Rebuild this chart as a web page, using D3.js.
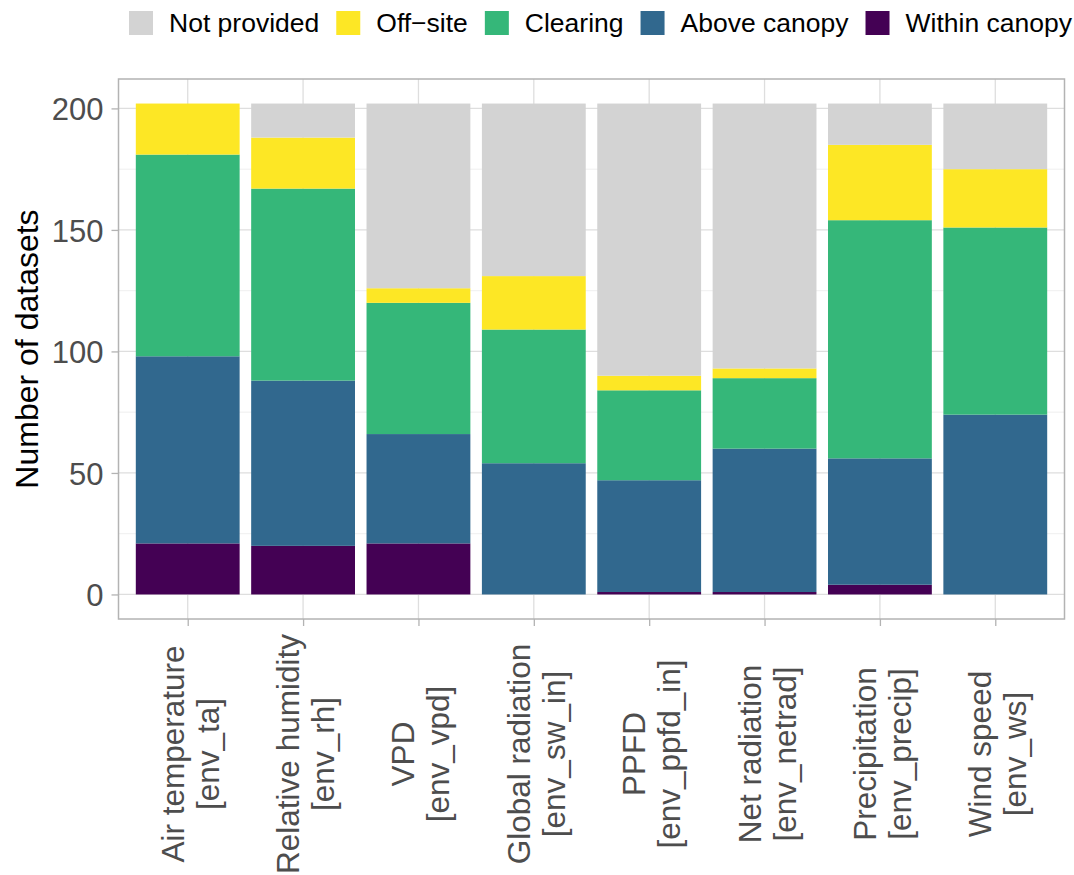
<!DOCTYPE html>
<html lang="en">
<head>
<meta charset="UTF-8">
<title>Number of datasets by variable</title>
<script src="https://d3js.org/d3.v7.min.js"></script>
<style>
  html, body { margin: 0; padding: 0; background: #fff; }
  text { font-family: 'Liberation Sans', Arial, sans-serif; }
</style>
</head>
<body>
<div id="chart"></div>
<script>
// data
var categories = [
  "Air temperature\n[env_ta]",
  "Relative humidity\n[env_rh]",
  "VPD\n[env_vpd]",
  "Global radiation\n[env_sw_in]",
  "PPFD\n[env_ppfd_in]",
  "Net radiation\n[env_netrad]",
  "Precipitation\n[env_precip]",
  "Wind speed\n[env_ws]"
];
var withinCanopy = [21, 20, 21, 0, 1, 1, 4, 0];
var aboveCanopy  = [77, 68, 45, 54, 46, 59, 52, 74];
var clearing     = [83, 79, 54, 55, 37, 29, 98, 77];
var offSite      = [21, 21, 6, 22, 6, 4, 31, 24];
var notProvided  = [0, 14, 76, 71, 112, 109, 17, 27];

var seriesNames  = ["Within canopy", "Above canopy", "Clearing", "Off\u2212site", "Not provided"];
var seriesColors = ["#440154", "#31688E", "#35B779", "#FDE725", "#D3D3D3"];
var yTicks = [0, 50, 100, 150, 200];
var yMinor = [25, 75, 125, 175];

var seriesValues = [withinCanopy, aboveCanopy, clearing, offSite, notProvided];
var rows = categories.map(function (c, i) {
  var r = { cat: c };
  seriesNames.forEach(function (s, j) { r[s] = seriesValues[j][i]; });
  return r;
});

var W = 1074, H = 875;
var panel = { left: 118.5, right: 1064.5, top: 79, bottom: 619 };

var svg = d3.select("#chart")
  .append("svg")
  .attr("width", W)
  .attr("height", H);

var maxTotal = d3.max(rows, function (r) { return d3.sum(seriesNames, function (s) { return r[s]; }); });
var y = d3.scaleLinear()
  .domain([-0.05 * maxTotal, maxTotal * 1.05])
  .range([panel.bottom, panel.top]);

// discrete axis with ggplot-style 0.6 expansion
var n = categories.length;
var step = (panel.right - panel.left) / (n - 1 + 1.2);
var x = d3.scalePoint()
  .domain(categories)
  .range([panel.left + 0.6 * step, panel.right - 0.6 * step]);
var barW = 0.9 * step;

// grid
var grid = svg.append("g");
grid.selectAll(".minor")
  .data(yMinor)
  .enter().append("line")
  .attr("x1", panel.left).attr("x2", panel.right)
  .attr("y1", function (d) { return y(d); })
  .attr("y2", function (d) { return y(d); })
  .attr("stroke", "#EDEDED")
  .attr("stroke-width", 0.9);
grid.selectAll(".major")
  .data(yTicks)
  .enter().append("line")
  .attr("x1", panel.left).attr("x2", panel.right)
  .attr("y1", function (d) { return y(d); })
  .attr("y2", function (d) { return y(d); })
  .attr("stroke", "#DEDEDE")
  .attr("stroke-width", 1.3);
grid.selectAll(".vmajor")
  .data(categories)
  .enter().append("line")
  .attr("y1", panel.top).attr("y2", panel.bottom)
  .attr("x1", function (d) { return x(d); })
  .attr("x2", function (d) { return x(d); })
  .attr("stroke", "#DEDEDE")
  .attr("stroke-width", 1.3);

// stacked bars
var stack = d3.stack().keys(seriesNames)(rows);
var color = d3.scaleOrdinal().domain(seriesNames).range(seriesColors);

svg.append("g")
  .selectAll("g")
  .data(stack)
  .enter().append("g")
  .attr("fill", function (d) { return color(d.key); })
  .selectAll("rect")
  .data(function (d) { return d; })
  .enter().append("rect")
  .attr("x", function (d) { return x(d.data.cat) - barW / 2; })
  .attr("width", barW)
  .attr("y", function (d) { return y(d[1]); })
  .attr("height", function (d) { return y(d[0]) - y(d[1]); });

// panel border
svg.append("rect")
  .attr("x", panel.left).attr("y", panel.top)
  .attr("width", panel.right - panel.left)
  .attr("height", panel.bottom - panel.top)
  .attr("fill", "none")
  .attr("stroke", "#B3B3B3")
  .attr("stroke-width", 1.5);

// y axis
var yAxis = svg.append("g")
  .attr("transform", "translate(" + panel.left + ",0)")
  .call(d3.axisLeft(y).tickValues(yTicks).tickSize(7).tickPadding(8));
yAxis.select(".domain").remove();
yAxis.selectAll(".tick line").attr("stroke", "#B3B3B3").attr("stroke-width", 1.3);
yAxis.selectAll(".tick text")
  .attr("fill", "#4D4D4D")
  .style("font-size", "31px")
  .attr("dy", "0.36em");

// x axis
var xAxis = svg.append("g")
  .attr("transform", "translate(0," + panel.bottom + ")")
  .call(d3.axisBottom(x).tickSize(7).tickFormat(""));
xAxis.select(".domain").remove();
xAxis.selectAll(".tick line").attr("stroke", "#B3B3B3").attr("stroke-width", 1.3);

var xl = svg.append("g")
  .selectAll("text")
  .data(categories)
  .enter().append("text")
  .attr("transform", function (d) { return "translate(" + x(d) + ",754) rotate(-90)"; })
  .attr("text-anchor", "middle")
  .attr("fill", "#4D4D4D")
  .style("font-size", "31.5px");
xl.each(function (d) {
  var parts = d.split("\n");
  var t = d3.select(this);
  t.append("tspan").attr("x", 0).attr("y", -4).text(parts[0]);
  t.append("tspan").attr("x", 0).attr("y", 31).text(parts[1]);
});

// y title
svg.append("text")
  .attr("transform", "translate(38," + ((panel.top + panel.bottom) / 2) + ") rotate(-90)")
  .attr("text-anchor", "middle")
  .attr("fill", "#000")
  .style("font-size", "32px")
  .text("Number of datasets");

// legend, top
var legendOrder = seriesNames.slice().reverse();
var lg = svg.append("g");
var lx = 129;
legendOrder.forEach(function (name) {
  lg.append("rect")
    .attr("x", lx).attr("y", 11)
    .attr("width", 24).attr("height", 24)
    .attr("fill", color(name));
  var t = lg.append("text")
    .attr("x", lx + 40).attr("y", 32)
    .attr("fill", "#000")
    .style("font-size", "26.5px")
    .text(name);
  lx = lx + 40 + t.node().getComputedTextLength() + 17;
});
</script>
</body>
</html>
